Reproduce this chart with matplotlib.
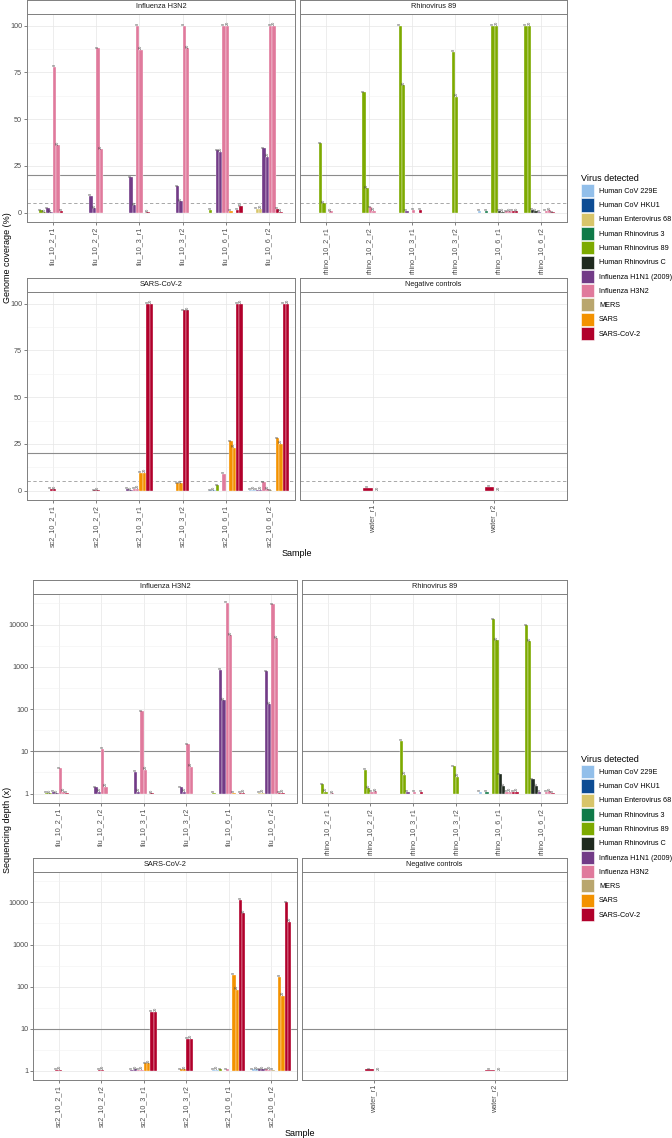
import matplotlib
matplotlib.use("Agg")
import matplotlib.pyplot as plt
from matplotlib.patches import Patch

plt.rcParams['font.family'] = ['Liberation Sans', 'DejaVu Sans']

# legend / colours
viruses = ['Human CoV 229E', 'Human CoV HKU1', 'Human Enterovirus 68', 'Human Rhinovirus 3',
           'Human Rhinovirus 89', 'Human Rhinovirus C', 'Influenza H1N1 (2009)', 'Influenza H3N2',
           'MERS', 'SARS', 'SARS-CoV-2']
virus_colors = ['#92BFEA', '#0D4C94', '#D8C56A', '#0F7A48', '#7DAA00', '#1F2A1F', '#723B87',
                '#E07A9C', '#B9A66E', '#F39200', '#B1002B']
col = dict(zip(viruses, virus_colors))

flu_samples = ['flu_10_2_r1', 'flu_10_2_r2', 'flu_10_3_r1', 'flu_10_3_r2', 'flu_10_6_r1', 'flu_10_6_r2']
rhino_samples = ['rhino_10_2_r1', 'rhino_10_2_r2', 'rhino_10_3_r1', 'rhino_10_3_r2', 'rhino_10_6_r1', 'rhino_10_6_r2']
sc2_samples = ['sc2_10_2_r1', 'sc2_10_2_r2', 'sc2_10_3_r1', 'sc2_10_3_r2', 'sc2_10_6_r1', 'sc2_10_6_r2']
neg_samples = ['water_r1', 'water_r2']

# (virus, value at 8, value at 20); None = not detected
flu_cov = [
    [('Human Rhinovirus 89', 1.2, 0.3), ('Influenza H1N1 (2009)', 2.5, 0.3), ('Influenza H3N2', 78, 36), ('SARS-CoV-2', 1.0, None)],
    [('Influenza H1N1 (2009)', 9, 2.5), ('Influenza H3N2', 88, 34)],
    [('Influenza H1N1 (2009)', 19, 4), ('Influenza H3N2', 100, 87), ('SARS-CoV-2', None, 0.3)],
    [('Influenza H1N1 (2009)', 14, 6), ('Influenza H3N2', 100, 88)],
    [('Human Rhinovirus 89', 1.5, None), ('Influenza H1N1 (2009)', 33.5, 32.5), ('Influenza H3N2', 100, 100),
     ('SARS', 1.0, None), ('SARS-CoV-2', 1.5, 3.5)],
    [('Human Enterovirus 68', 2, 2), ('Influenza H1N1 (2009)', 34.5, 30), ('Influenza H3N2', 100, 100),
     ('SARS-CoV-2', 2, 0.5)],
]
rhino_cov = [
    [('Human Rhinovirus 89', 37, 5), ('Influenza H3N2', None, 0.8)],
    [('Human Rhinovirus 89', 64.5, 13), ('Influenza H3N2', 3, 1)],
    [('Human Rhinovirus 89', 100, 68), ('Influenza H1N1 (2009)', 1, None), ('Influenza H3N2', 1.5, None), ('SARS-CoV-2', 1.5, None)],
    [('Human Rhinovirus 89', 86, 62)],
    [('Human CoV 229E', 1, None), ('Human Rhinovirus 3', 1, None), ('Human Rhinovirus 89', 100, 100),
     ('Human Rhinovirus C', 1, 0.5), ('Influenza H3N2', 0.8, 0.8), ('SARS-CoV-2', 1, 0.8)],
    [('Human Rhinovirus 89', 100, 100), ('Human Rhinovirus C', 1.5, 0.8), ('Influenza H1N1 (2009)', 0.5, None),
     ('Influenza H3N2', 1, 1.2), ('SARS-CoV-2', 0.3, None)],
]
sc2_cov = [
    [('SARS-CoV-2', 1, 0.8)],
    [('SARS-CoV-2', 0.1, 0.1)],
    [('Influenza H1N1 (2009)', 1, 0.3), ('Influenza H3N2', 1, 1), ('SARS', 9.5, 9.5), ('SARS-CoV-2', 100, 100)],
    [('SARS', 4, 4), ('SARS-CoV-2', 96.5, 96.5)],
    [('Human CoV 229E', 0.3, 0.3), ('Human Rhinovirus 89', 3, None), ('Influenza H3N2', 9, None),
     ('SARS', 26.5, 23), ('SARS-CoV-2', 100, 100)],
    [('Human CoV 229E', 0.5, 0.5), ('Influenza H1N1 (2009)', 0.5, 0.5), ('Influenza H3N2', 4.5, 0.8),
     ('MERS', 0.3, None), ('SARS', 28, 25), ('SARS-CoV-2', 100, 100)],
]
neg_cov = [
    [('SARS-CoV-2', 1.5, 0)],
    [('SARS-CoV-2', 2, 0)],
]

flu_depth = [
    [('Human Rhinovirus 89', 1.05, 1.02), ('Influenza H1N1 (2009)', 1.1, 1.03), ('Influenza H3N2', 4, 1.1), ('SARS-CoV-2', 1.05, None)],
    [('Influenza H1N1 (2009)', 1.4, 1.1), ('Influenza H3N2', 11.5, 1.45)],
    [('Influenza H1N1 (2009)', 3.3, 1.1), ('Influenza H3N2', 90, 3.7), ('SARS-CoV-2', None, 1.02)],
    [('Influenza H1N1 (2009)', 1.4, 1.1), ('Influenza H3N2', 15, 4.3)],
    [('Human Rhinovirus 89', 1.05, None), ('Influenza H1N1 (2009)', 850, 160), ('Influenza H3N2', 33000, 5700),
     ('SARS', 1.05, None), ('SARS-CoV-2', 1.05, 1.05)],
    [('Human Enterovirus 68', 1.05, 1.05), ('Influenza H1N1 (2009)', 800, 130), ('Influenza H3N2', 30000, 4700),
     ('SARS-CoV-2', 1.05, 1.05)],
]
rhino_depth = [
    [('Human Rhinovirus 89', 1.65, 1.1), ('Influenza H3N2', None, 1.03)],
    [('Human Rhinovirus 89', 3.7, 1.35), ('Influenza H3N2', 1.1, 1.15)],
    [('Human Rhinovirus 89', 18, 2.8), ('Influenza H1N1 (2009)', 1.1, None), ('Influenza H3N2', 1.1, None), ('SARS-CoV-2', 1.1, None)],
    [('Human Rhinovirus 89', 4.5, 2.5)],
    [('Human CoV 229E', 1.1, None), ('Human Rhinovirus 3', 1.1, None), ('Human Rhinovirus 89', 13500, 4300),
     ('Human Rhinovirus C', 2.9, 1.5), ('Influenza H3N2', 1.1, 1.1), ('SARS-CoV-2', 1.1, 1.1)],
    [('Human Rhinovirus 89', 9700, 4000), ('Human Rhinovirus C', 2.2, 1.5), ('Influenza H1N1 (2009)', 1.1, None),
     ('Influenza H3N2', 1.1, 1.15), ('SARS-CoV-2', 1.05, None)],
]
sc2_depth = [
    [('SARS-CoV-2', 1.05, 1.05)],
    [('SARS-CoV-2', 1.05, 1.05)],
    [('Influenza H1N1 (2009)', 1.05, 1.1), ('Influenza H3N2', 1.05, 1.05), ('SARS', 1.5, 1.5), ('SARS-CoV-2', 25, 25)],
    [('SARS', 1.1, 1.1), ('SARS-CoV-2', 5.8, 5.8)],
    [('Human CoV 229E', 1.05, 1.05), ('Human Rhinovirus 89', 1.1, None), ('Influenza H3N2', 1.1, None),
     ('SARS', 190, 85), ('SARS-CoV-2', 11500, 5500)],
    [('Human CoV 229E', 1.1, 1.1), ('Influenza H1N1 (2009)', 1.1, 1.1), ('Influenza H3N2', 1.1, 1.05),
     ('MERS', 1.05, None), ('SARS', 170, 60), ('SARS-CoV-2', 10000, 3500)],
]
neg_depth = [
    [('SARS-CoV-2', 1.07, 1.0)],
    [('SARS-CoV-2', 1.05, 1.0)],
]

W, H = 672, 1138
fig = plt.figure(figsize=(W / 100, H / 100), dpi=100)


def box(x0, y0, x1, y1):
    return [x0 / W, 1 - y1 / H, (x1 - x0) / W, (y1 - y0) / H]


def panel(x0, x1, s0, y1, title, samples, data, log, left):
    st = fig.add_axes(box(x0, s0, x1, s0 + 14))
    st.set_xticks([]); st.set_yticks([])
    for s in st.spines.values():
        s.set_color('#7F7F7F'); s.set_linewidth(0.7)
    st.text(0.5, 0.5, title, ha='center', va='center', fontsize=5.3, color='#1A1A1A', transform=st.transAxes)

    ax = fig.add_axes(box(x0, s0 + 14, x1, y1))
    w = 0.078
    base = 1 if log else 0
    for i, entries in enumerate(data):
        n = 2 * len(entries)
        start = i - n * w / 2 + w / 2
        k = 0
        for virus, v8, v20 in entries:
            for t, v in (('8', v8), ('20', v20)):
                xp = start + k * w
                k += 1
                if v is None:
                    continue
                ax.bar(xp, v - base, bottom=base, width=w, color=col[virus], edgecolor='white', linewidth=0.25, zorder=3)
                ax.annotate(t, (xp, v), xytext=(0, 0.3), textcoords='offset points', rotation=90,
                            ha='center', va='bottom', fontsize=2.8, color='#444444', zorder=4)
    ax.set_xlim(-0.6, len(samples) - 0.4)
    ax.set_xticks(range(len(samples)))
    ax.set_xticklabels(samples, rotation=90, fontsize=5.2, color='#4D4D4D')
    if log:
        ax.set_yscale('log')
        ax.set_ylim(0.6, 53000)
        ax.set_yticks([1, 10, 100, 1000, 10000])
        ax.set_yticklabels(['1', '10', '100', '1000', '10000'])
        ax.set_yticks([10 ** 0.5, 10 ** 1.5, 10 ** 2.5, 10 ** 3.5, 10 ** 4.5], minor=True)
        ax.yaxis.set_minor_formatter(plt.NullFormatter())
        ax.axhline(10, color='#8C8C8C', lw=0.8, zorder=2)
    else:
        ax.set_ylim(-5, 106.2)
        ax.set_yticks([0, 25, 50, 75, 100])
        ax.set_yticks([12.5, 37.5, 62.5, 87.5], minor=True)
        ax.axhline(20, color='#8C8C8C', lw=0.8, zorder=2)
        ax.axhline(5, color='#9A9A9A', lw=0.6, ls=(0, (4, 3)), zorder=2)
    ax.grid(True, which='major', color='#E6E6E6', lw=0.5, zorder=0)
    ax.grid(True, which='minor', axis='y', color='#F2F2F2', lw=0.4, zorder=0)
    ax.tick_params(axis='both', which='major', length=2, width=0.5, color='#4D4D4D', pad=1.5,
                   labelsize=5.2, labelcolor='#4D4D4D')
    ax.tick_params(axis='y', which='minor', length=0)
    if not left:
        ax.tick_params(axis='y', which='major', length=0, labelleft=False)
    for s in ax.spines.values():
        s.set_color('#7F7F7F'); s.set_linewidth(0.7)
    return ax


# genome coverage
panel(27, 295, 0, 222, 'Influenza H3N2', flu_samples, flu_cov, False, True)
panel(300, 567, 0, 222, 'Rhinovirus 89', rhino_samples, rhino_cov, False, False)
panel(27, 295, 278, 500, 'SARS-CoV-2', sc2_samples, sc2_cov, False, True)
panel(300, 567, 278, 500, 'Negative controls', neg_samples, neg_cov, False, False)
fig.text(8 / W, 1 - 258 / H, 'Genome coverage (%)', rotation=90, ha='center', va='center', fontsize=6.5)
fig.text(297 / W, 1 - 553 / H, 'Sample', ha='center', va='center', fontsize=6.5)

# sequencing depth
panel(33, 297, 580, 803, 'Influenza H3N2', flu_samples, flu_depth, True, True)
panel(302, 567, 580, 803, 'Rhinovirus 89', rhino_samples, rhino_depth, True, False)
panel(33, 297, 858, 1080, 'SARS-CoV-2', sc2_samples, sc2_depth, True, True)
panel(302, 567, 858, 1080, 'Negative controls', neg_samples, neg_depth, True, False)
fig.text(8 / W, 1 - 830 / H, 'Sequencing depth (x)', rotation=90, ha='center', va='center', fontsize=6.5)
fig.text(300 / W, 1 - 1133 / H, 'Sample', ha='center', va='center', fontsize=6.5)

handles = [Patch(facecolor=c, edgecolor='white', linewidth=0.4) for c in virus_colors]
for ytop in (174, 755):
    leg = fig.legend(handles, viruses, title='Virus detected', loc='upper left',
                     bbox_to_anchor=(581 / W, 1 - ytop / H), frameon=False, fontsize=5.2,
                     title_fontsize=6.5, handlelength=1.8, handleheight=2.4, labelspacing=0.17,
                     handletextpad=0.7, borderaxespad=0, borderpad=0)
    leg._legend_box.align = 'left'

fig.savefig('out.png', dpi=100)
